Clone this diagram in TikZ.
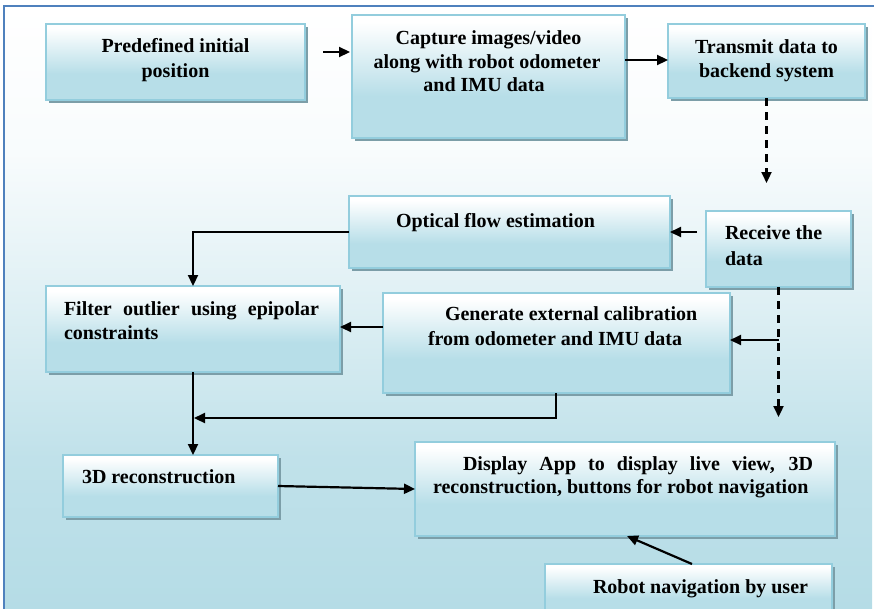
\documentclass[tikz,border=0pt]{standalone}
\usepackage{fontspec}
\setmainfont{Liberation Serif}
\usetikzlibrary{arrows.meta,shadows,calc}
\definecolor{boxedge}{HTML}{93CDDD}
\definecolor{boxbot}{HTML}{B7DEE8}
\definecolor{shadowc}{HTML}{7C9EA8}
\definecolor{framec}{HTML}{4F81BD}
\definecolor{bgbot}{HTML}{B5DCE6}
\colorlet{bgA}{bgbot!85!white}
\colorlet{bgB}{bgbot!45!white}
\colorlet{bgC}{bgbot!10!white}
\pgfdeclareverticalshading{boxshade}{100bp}{color(0bp)=(boxbot); color(25bp)=(boxbot); color(42bp)=(boxbot); color(72bp)=(white); color(100bp)=(white)}
\pgfdeclareverticalshading{bgshade}{100bp}{color(0bp)=(bgbot); color(25bp)=(bgbot); color(37.5bp)=(bgA); color(50bp)=(bgB); color(62.5bp)=(bgC); color(75bp)=(white); color(100bp)=(white)}
\tikzset{
  box/.style={draw=boxedge, line width=2pt, shading=boxshade, inner sep=0pt, outer sep=0pt,
    drop shadow={shadow xshift=3pt, shadow yshift=-3pt, fill=shadowc, opacity=1}},
  txt/.style={font=\fontsize{20}{24}\selectfont\bfseries, inner sep=0pt, outer sep=0pt},
  arr/.style={line width=2.2pt, -{Triangle[length=11pt,width=10pt]}},
  dsh/.style={dash pattern=on 8pt off 6pt}
}
\begin{document}
\begin{tikzpicture}[x=1pt,y=-1pt]
\useasboundingbox (0,0) rectangle (874,608);
\clip (0,0) rectangle (874,608);
% background
\shade[shading=bgshade] (4,6) rectangle (872,608);
\draw[framec, line width=2pt] (4,610) -- (4,6) -- (874,6);

% boxes
\node[box, minimum width=259pt, minimum height=76pt] (n1) at (175.5,61.5) {};
\node[box, minimum width=273pt, minimum height=123pt] (n2) at (488.5,76.5) {};
\node[box, minimum width=197pt, minimum height=74pt] (n3) at (766.5,61) {};
\node[box, minimum width=321pt, minimum height=72pt] (n4) at (509.5,232) {};
\node[box, minimum width=145pt, minimum height=76pt] (n5) at (778.5,249) {};
\node[box, minimum width=294pt, minimum height=86pt] (n6) at (193,329) {};
\node[box, minimum width=347pt, minimum height=100pt] (n7) at (556.5,343) {};
\node[box, minimum width=215pt, minimum height=62pt] (n8) at (170.5,486) {};
\node[box, minimum width=420pt, minimum height=94pt] (n9) at (625,489) {};
\node[box, minimum width=287pt, minimum height=52pt] (n10) at (688.5,590) {};

% texts
\node[txt, anchor=base] (t1a) at (175.5,52) {Predefined initial};
\node[txt, anchor=base] (t1b) at (175.5,77) {position};
\node[txt, anchor=base] (t2a) at (488.5,44) {Capture images/video};
\node[txt, anchor=base] (t2b) at (487,68) {along with robot odometer};
\node[txt, anchor=base] (t2c) at (484,91) {and IMU data};
\node[txt, anchor=base] (t3a) at (766.5,53) {Transmit data to};
\node[txt, anchor=base] (t3b) at (766.5,77) {backend system};
\node[txt, anchor=base west] (t4) at (396,227) {Optical flow estimation};
\node[txt, anchor=base west] (t5a) at (725,239) {Receive the};
\node[txt, anchor=base west] (t5b) at (725,265) {data};
\node[txt, anchor=base west] (t6a) at (64,315) {\makebox[255pt][s]{Filter outlier using epipolar}};
\node[txt, anchor=base west] (t6b) at (64,339) {constraints};
\node[txt, anchor=base west] (t7a) at (445,320) {Generate external calibration};
\node[txt, anchor=base west] (t7b) at (428,345) {from odometer and IMU data};
\node[txt, anchor=base west] (t8) at (82,483) {3D reconstruction};
\node[txt, anchor=base west] (t9a) at (463,470) {\makebox[350pt][s]{Display App to display live view, 3D}};
\node[txt, anchor=base west] (t9b) at (433,493) {reconstruction, buttons for robot navigation};
\node[txt, anchor=base west] (t10) at (593,593) {Robot navigation by user};

% connectors
\coordinate (d1) at (766.5,183);
\coordinate (d2) at (778.5,417);
\draw[arr] ($(n1.east |- 0,52)+(18,0)$) -- ($(n2.west |- 0,52)+(-2,0)$);
\draw[arr] (n2.east |- 0,60) -- (n3.west |- 0,60);
\draw[arr, dsh] (n3.south) -- (d1);
\draw[arr] ($(n5.west |- 0,232)+(-9,0)$) -- (n4.east |- 0,232);
\draw[arr] (n4.west) -| (n6.north);
\draw[arr, dsh] (n5.south) -- (d2);
\draw[arr] (n5.south |- 0,340) -- (n7.east |- 0,340);
\draw[arr] (n7.west |- 0,327) -- (n6.east |- 0,327);
\draw[arr] (n6.south) -- (n6.south |- n8.north);
\draw[arr] (n7.south -| 556,0) |- ($(n6.south |- 0,418)+(1,0)$);
\draw[arr] (n8.east) -- (n9.west |- 0,489);
\draw[arr] (n10.north -| 692,0) -- (n9.south -| 627,0);
\end{tikzpicture}
\end{document}
